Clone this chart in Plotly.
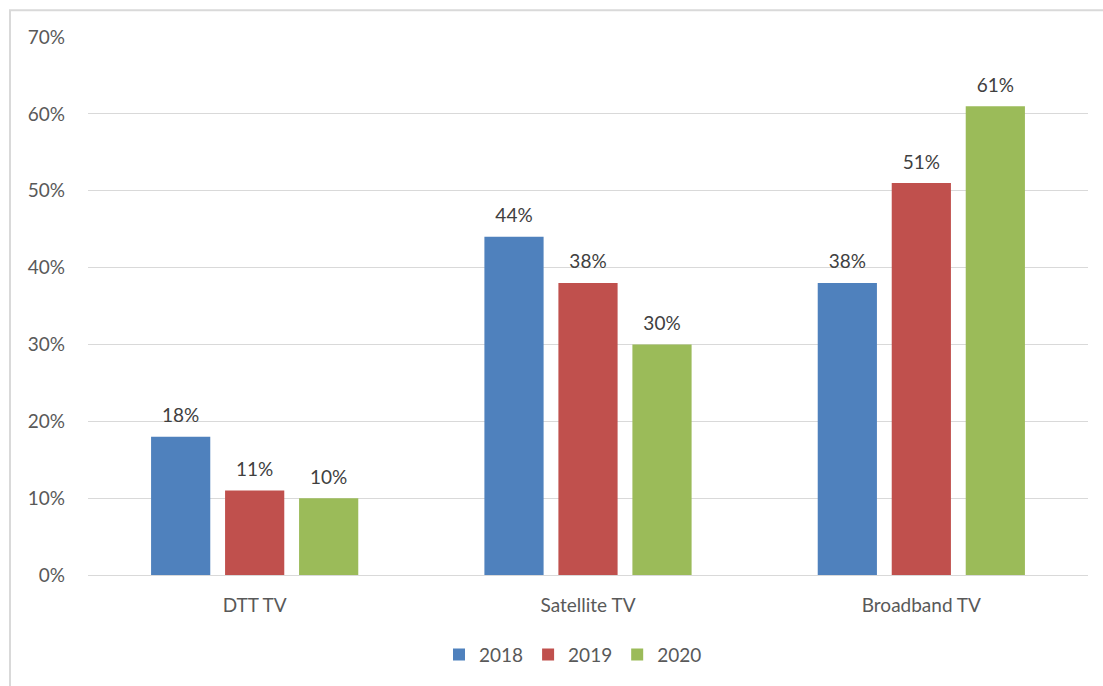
import plotly.graph_objects as go

categories = ["DTT TV", "Satellite TV", "Broadband TV"]
years = ["2018", "2019", "2020"]
values_2018 = [0.18, 0.44, 0.38]
values_2019 = [0.11, 0.38, 0.51]
values_2020 = [0.10, 0.30, 0.61]
colors = ["#4f81bd", "#c0504d", "#9bbb59"]
y_ticks = [0, 0.1, 0.2, 0.3, 0.4, 0.5, 0.6, 0.7]

FONT = "Lato, Open Sans, sans-serif"
fig = go.Figure()
for name, vals, col in zip(years, [values_2018, values_2019, values_2020], colors):
    fig.add_trace(go.Bar(
        x=categories, y=vals, name=name,
        marker=dict(color=col, line=dict(width=0)),
        offsetgroup=name, alignmentgroup="a",
    ))
for name, vals in zip(years, [values_2018, values_2019, values_2020]):
    fig.add_trace(go.Scatter(
        x=categories, y=vals, name=name, showlegend=False,
        mode="markers+text", offsetgroup=name, alignmentgroup="a",
        marker=dict(size=14, color="rgba(0,0,0,0)"),
        text=[f"{round(v*100)}%" for v in vals],
        textposition="top center", cliponaxis=False, hoverinfo="skip",
        textfont=dict(size=19, color="#404040", family=FONT),
    ))

W, H = 1103, 686
ml, mr, mt, mb = 88, 15, 37, 108
pw, ph = W - ml - mr, H - mt - mb

def px_x(x):
    return (x - ml) / pw

def px_y(y):
    return (H - mb - y) / ph

fig.update_layout(
    width=W, height=H,
    margin=dict(l=ml, r=mr, t=mt, b=mb),
    paper_bgcolor="white", plot_bgcolor="white",
    barmode="group", bargap=0.334, bargroupgap=0.2,
    scattermode="group", scattergap=0.334,
    font=dict(family=FONT, size=19, color="#595959"),
    showlegend=True,
    legend=dict(orientation="h", x=0.485, xanchor="center", y=px_y(658), yanchor="middle",
                font=dict(size=19, color="#595959"), itemwidth=30, traceorder="normal"),
    xaxis=dict(showgrid=False, showline=False, ticks="", ticklabelstandoff=17,
               tickfont=dict(size=19, color="#595959")),
    yaxis=dict(range=[0, 0.7], tickvals=y_ticks, tickformat=".0%", showgrid=True,
               gridcolor="#d9d9d9", gridwidth=1, zeroline=True, zerolinecolor="#d9d9d9",
               zerolinewidth=1, showline=False, ticks="", ticklabelstandoff=22,
               tickfont=dict(size=19, color="#595959")),
    shapes=[dict(type="rect", xref="paper", yref="paper",
                 x0=px_x(10), x1=px_x(1115), y0=px_y(700), y1=px_y(10),
                 line=dict(color="#d9d9d9", width=2), layer="below")],
)

fig.write_html("out.html")
